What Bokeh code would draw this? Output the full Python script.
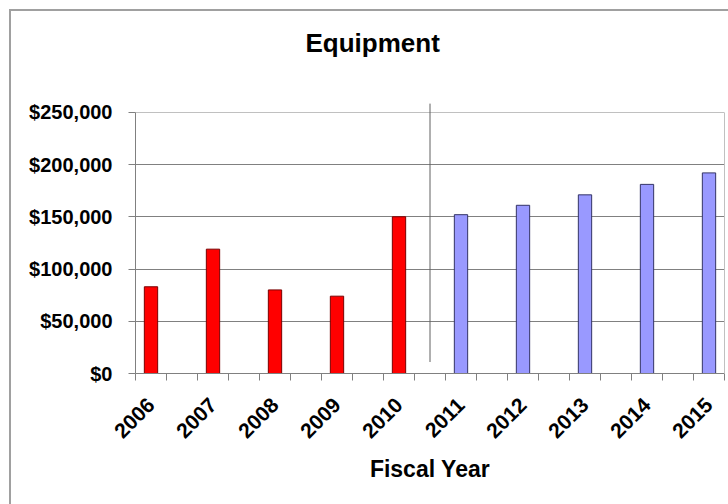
import math
from bokeh.plotting import figure
from bokeh.models import (FixedTicker, NumeralTickFormatter, Range1d, ColumnDataSource,
                          Arrow, CustomJSTickFormatter, LinearAxis, Grid)
from bokeh.embed import file_html
from bokeh.resources import INLINE

# ---- data ----
years = ["2006", "2007", "2008", "2009", "2010", "2011", "2012", "2013", "2014", "2015"]
values = [83000, 119000, 80000, 74000, 150000, 152000, 161000, 171000, 181000, 192000]
kind = ["actual"] * 5 + ["projected"] * 5
y_ticks = [0, 50000, 100000, 150000, 200000, 250000]

FONT = "Liberation Sans"

# each year occupies every other slot, with an empty slot between them
xs = [2 * i + 0.5 for i in range(len(years))]
n_slots = 2 * len(years) - 1
fill = ["#FF0000" if k == "actual" else "#9999FF" for k in kind]
edge = ["#7a0000" if k == "actual" else "#333366" for k in kind]

src = ColumnDataSource(dict(x=xs, top=values, year=years, fill=fill, edge=edge))

y_end = 290000      # headroom above the top gridline (drawn area stops at 250,000)
divider_top = 258300  # the divider rises a little above the plot area
p = figure(width=728, height=504, output_backend="svg", toolbar_location=None,
           x_range=Range1d(0, n_slots), y_range=Range1d(y_ticks[0], y_end),
           min_border_left=135, min_border_right=4, min_border_top=70, min_border_bottom=131)
p.background_fill_color = None
p.border_fill_color = None
p.outline_line_color = None
p.styles = {
    "background": "linear-gradient(#a0a0a0,#a0a0a0) 9px 9px / 2px 100% no-repeat, "
                  "linear-gradient(#a0a0a0,#a0a0a0) 9px 9px / 100% 2px no-repeat, white"
}

p.vbar(x="x", top="top", width=0.43, source=src, fill_color="fill", line_color="edge", line_width=1)

# title
p.title.text = "Equipment"
p.title.align = "left"
p.title.offset = 170
p.title.text_font = FONT
p.title.text_font_size = "26px"
p.title.text_font_style = "bold"
p.title.text_color = "black"
p.title.standoff = 26

# y axis
yax = p.yaxis[0]
yax.ticker = FixedTicker(ticks=y_ticks)
yax.bounds = (y_ticks[0], y_ticks[-1])
yax.formatter = NumeralTickFormatter(format="$0,0")
yax.major_label_text_font = FONT
yax.major_label_text_font_size = "20px"
yax.major_label_text_font_style = "bold"
yax.major_label_text_color = "black"
yax.major_label_standoff = 16
yax.major_tick_out = 7
yax.major_tick_in = 0
yax.minor_tick_line_color = None
yax.axis_line_color = "#808080"
yax.major_tick_line_color = "#808080"

# right edge of the plot area
rax = LinearAxis(ticker=FixedTicker(ticks=[]), bounds=(y_ticks[0], y_ticks[-1]),
                 axis_line_color="#c0c0c0", major_tick_line_color=None,
                 minor_tick_line_color=None, major_label_text_font_size="0px")
p.add_layout(rax, "right")

# x axis
xax = p.xaxis[0]
xax.ticker = FixedTicker(ticks=xs, minor_ticks=list(range(n_slots + 1)))
xax.formatter = CustomJSTickFormatter(args=dict(labels=years),
                                      code="return labels[Math.round((tick - 0.5) / 2)];")
xax.major_label_orientation = math.pi / 4
xax.major_label_text_font = FONT
xax.major_label_text_font_size = "21px"
xax.major_label_text_font_style = "bold"
xax.major_label_text_color = "black"
xax.major_label_standoff = 21
xax.major_tick_line_color = None
xax.minor_tick_line_color = "#808080"
xax.minor_tick_out = 7
xax.minor_tick_in = 0
xax.axis_line_color = "#808080"
xax.axis_label = "Fiscal Year"
xax.axis_label_text_font = FONT
xax.axis_label_text_font_size = "23px"
xax.axis_label_text_font_style = "bold"
xax.axis_label_text_color = "black"
xax.axis_label_standoff = 9

# grid
p.xgrid.visible = False
p.ygrid.ticker = FixedTicker(ticks=y_ticks[1:-1])
p.ygrid.grid_line_color = "#808080"
p.add_layout(Grid(dimension=1, ticker=FixedTicker(ticks=[y_ticks[-1]]),
                  grid_line_color="#c0c0c0"))

# divider between actual and projected years
div_x = (xs[4] + xs[5]) / 2
p.add_layout(Arrow(end=None, x_start=div_x, x_end=div_x, y_start=11000, y_end=divider_top,
                   line_color="#606060", line_width=1))

open("out.html", "w").write(file_html(p, INLINE))
